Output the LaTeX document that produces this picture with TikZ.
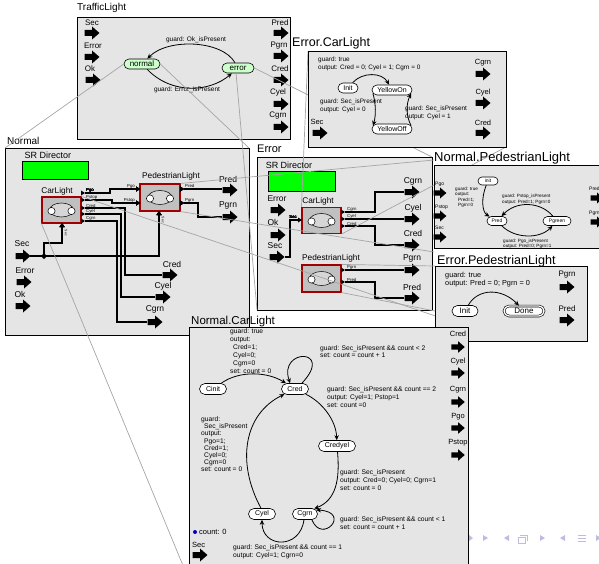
\documentclass[tikz,border=0pt]{standalone}
\usepackage{fontspec}
\setmainfont{Liberation Sans}
\usetikzlibrary{arrows.meta,shapes.misc,calc}
\definecolor{winfill}{RGB}{229,229,229}
\definecolor{stategreen}{RGB}{204,255,204}
\definecolor{srgreen}{RGB}{0,255,0}
\definecolor{actorfill}{RGB}{192,192,192}
\definecolor{iconfill}{RGB}{214,214,214}
\definecolor{actorred}{RGB}{160,0,0}
\definecolor{zoomgray}{RGB}{165,165,165}
\definecolor{navc}{RGB}{188,188,228}
\definecolor{countblue}{RGB}{0,0,200}

\begin{document}
\begin{tikzpicture}[x=1pt, y=-1pt,
    window/.style={draw=black, fill=winfill, line width=0.8pt},
    wintitle/.style={anchor=west, inner sep=0pt, font=\fontsize{#1pt}{#1pt}\selectfont},
    txt/.style={inner sep=0pt, font=\fontsize{#1pt}{#1pt}\selectfont},
    blk/.style 2 args={inner sep=0pt, anchor=north west, align=left, font=\fontsize{#1pt}{#2pt}\selectfont},
    state/.style 2 args={draw, line width=0.6pt, rounded rectangle, fill=white, inner sep=0pt,
      minimum width=#1, minimum height=#2},
    actor/.style={draw=actorred, line width=1.1pt, fill=actorfill, minimum width=39pt,
      minimum height=26pt, inner sep=0pt},
    director/.style={draw=black, line width=0.4pt, fill=srgreen},
    wire/.style={line width=1.1pt},
    trans/.style={line width=0.8pt, -{Stealth[length=5pt, width=4.5pt]}},
    zoomline/.style={draw=zoomgray, line width=0.7pt}]
  \useasboundingbox (0,0) rectangle (599,564);
  \clip (0,0) rectangle (599,564);
  % block arrow of a port: #1 = center, #2 = scale
  \newcommand{\portarrow}[2]{%
    \fill[shift={#1}, scale=#2] (-7.5,-3) -- (0,-3) -- (0,-6.5) -- (7.5,0) -- (0,6.5) -- (0,3) -- (-7.5,3) -- cycle;}
  % small port triangles on an actor: #1 = base point
  \newcommand{\pinright}[1]{\fill #1 ++(0,-2.5) -- ++(4,2.5) -- ++(-4,2.5) -- cycle;}
  \newcommand{\pinup}[1]{\fill #1 ++(-2.5,0) -- ++(2.5,-4) -- ++(2.5,4) -- cycle;}
  % icon inside an actor: #1 = actor node
  \newcommand{\actoricon}[1]{%
    \draw[fill=iconfill, line width=0.5pt] (#1.center) ellipse[x radius=12, y radius=7];
    \draw[fill=white, line width=0.5pt] ($(#1.center)+(-10,1)$) circle[radius=3.6];
    \draw[fill=white, line width=0.5pt] ($(#1.center)+(10,1)$) circle[radius=3.6];}

  % ---------------- TrafficLight
  \node[wintitle=10] (tlTitle) at (77,8) {TrafficLight};
  \draw[window] (77,17) rectangle (290,139);
  \node[txt=8] (tlSec) at (92,23) {Sec};      \portarrow{(92,33)}{1}
  \node[txt=8] (tlErr) at (93,46) {Error};    \portarrow{(92,57)}{1}
  \node[txt=8] (tlOk) at (90,69) {Ok};        \portarrow{(93,80)}{1}
  \node[txt=8] (tlPred) at (280,23) {Pred};   \portarrow{(281,33)}{1}
  \node[txt=8] (tlPgrn) at (279,46) {Pgrn};   \portarrow{(281,56)}{1}
  \node[txt=8] (tlCred) at (280,69) {Cred};   \portarrow{(281,80)}{1}
  \node[txt=8] (tlCyel) at (278,92) {Cyel};   \portarrow{(281,104)}{1}
  \node[txt=8] (tlCgrn) at (278,116) {Cgrn};  \portarrow{(281,127)}{1}
  \node[state={36pt}{10pt}, fill=stategreen, font=\fontsize{8pt}{8pt}\selectfont] (tNormal) at (142,64) {normal};
  \node[state={32pt}{10pt}, fill=stategreen, font=\fontsize{8pt}{8pt}\selectfont] (tError) at (238,68) {error};
  \draw[trans] (tError) .. controls (222,40) and (168,38) .. (tNormal);
  \draw[trans] (tNormal) .. controls (172,95) and (210,92) .. (tError);
  \node[txt=6.5] (tlGuardOk) at (196,40) {guard: Ok\_isPresent};
  \node[txt=6.5] (tlGuardErr) at (187,90) {guard: Error\_isPresent};

  % ---------------- Normal
  \node[wintitle=10] (nTitle) at (7,141) {Normal};
  \draw[window] (5,148) rectangle (249,335);
  \node[txt=9] (nDir) at (48,155) {SR Director};
  \draw[director] (22,161) rectangle (88,179);
  \node[txt=8.3] (nCarL) at (57,191) {CarLight};
  \node[actor] (nCar) at (61.5,210) {};
  \actoricon{nCar}
  \node[txt=8.3] (nPedL) at (171,176) {PedestrianLight};
  \node[actor, minimum width=40pt, minimum height=27pt] (nPed) at (160,197.5) {};
  \actoricon{nPed}
  \foreach \y in {193,200,208,214,221} \pinright{(81,\y)}
  \foreach \y in {189,203} {\pinright{(136,\y)} \pinright{(180,\y)}}
  \pinup{(62,227)} \pinup{(159,215)}
  \node[txt=4.3, anchor=west] (nCarPgo) at (86,190) {Pgo};
  \node[txt=4.3, anchor=west] (nCarPstop) at (86,197.5) {Pstop};
  \node[txt=4.3, anchor=west] (nCarCred) at (86,205.5) {Cred};
  \node[txt=4.3, anchor=west] (nCarCyel) at (86,211.5) {Cyel};
  \node[txt=4.3, anchor=west] (nCarCgrn) at (86,218.5) {Cgrn};
  \node[txt=4.3, anchor=east] (nPedPgo) at (135,186) {Pgo};
  \node[txt=4.3, anchor=east] (nPedPstop) at (135,200) {Pstop};
  \node[txt=4.3, anchor=west] (nPedPred) at (185,186) {Pred};
  \node[txt=4.3, anchor=west] (nPedPgrn) at (185,200) {Pgrn};
  \node[txt=3.5, rotate=-90] (nCarSec) at (66,233) {Sec};
  \node[txt=3.5, rotate=-90] (nPedSec) at (163,220) {Sec};
  \draw[wire] (85,193) -- (110,193) -- (110,189) -- (136,189);
  \draw[wire] (85,200) -- (112,200) -- (112,203) -- (136,203);
  \draw[wire] (85,208) -- (125,208) -- (125,275) -- (162,275);
  \draw[wire] (85,214) -- (121,214) -- (121,297) -- (155,297);
  \draw[wire] (85,221) -- (117,221) -- (117,322) -- (147,322);
  \draw[wire] (184,189) -- (222,189);
  \draw[wire] (184,203) -- (198,203) -- (198,217) -- (222,217);
  \coordinate (nRel) at (44,256);
  \draw[wire] (30,256) -- (nRel) -- (44,243) -- (62,243) -- (62,227);
  \draw[wire] (nRel) -- (159,256) -- (159,215);
  \fill (nRel) ++(-3,0) -- ++(3,-3) -- ++(3,3) -- ++(-3,3) -- cycle;
  \node[txt=8.5] (nPred) at (228,179) {Pred};  \portarrow{(230,190)}{1}
  \node[txt=8.5] (nPgrn) at (228,205) {Pgrn};  \portarrow{(230,217)}{1}
  \node[txt=8.5] (nCred) at (172,264) {Cred};  \portarrow{(170,275)}{1}
  \node[txt=8.5] (nCyel) at (163,286) {Cyel};  \portarrow{(163,297)}{1}
  \node[txt=8.5] (nCgrn) at (155,309) {Cgrn};  \portarrow{(155,322)}{1}
  \node[txt=8.5] (nSec) at (22,244) {Sec};     \portarrow{(23,256)}{1}
  \node[txt=8.5] (nErr) at (25,271) {Error};   \portarrow{(24,282)}{1}
  \node[txt=8.5] (nOk) at (20,294) {Ok};       \portarrow{(23,306)}{1}

  % ---------------- Error
  \node[wintitle=11] (eTitle) at (257,149) {Error};
  \draw[window] (257,157) rectangle (432,310);
  \node[txt=9] (eDir) at (289,165) {SR Director};
  \draw[director] (268,171) rectangle (335,191);
  \node[txt=8.3] (eCarL) at (318,201) {CarLight};
  \node[actor] (eCar) at (321.5,220.5) {};
  \actoricon{eCar}
  \node[txt=8.3] (ePedL) at (331,258) {PedestrianLight};
  \node[actor, minimum height=27pt] (ePed) at (321.5,278.5) {};
  \actoricon{ePed}
  \pinright{(298,220)}
  \foreach \y in {212,219,226,270,282} \pinright{(341,\y)}
  \node[txt=4.3, anchor=east] (eCarSec) at (297,217) {Sec};
  \node[txt=4.3, anchor=west] (eCarCgrn) at (347,209.5) {Cgrn};
  \node[txt=4.3, anchor=west] (eCarCyel) at (347,216.5) {Cyel};
  \node[txt=4.3, anchor=west] (eCarCred) at (347,223.5) {Cred};
  \node[txt=4.3, anchor=west] (ePedPgrn) at (347,267.5) {Pgrn};
  \node[txt=4.3, anchor=west] (ePedPred) at (347,279.5) {Pred};
  \draw[wire] (285,257) -- (290,257) -- (290,220) -- (298,220);
  \draw[wire] (345,212) -- (375,212) -- (375,192) -- (404,192);
  \draw[wire] (345,219) -- (404,219);
  \draw[wire] (345,226) -- (375,226) -- (375,245) -- (404,245);
  \draw[wire] (345,270) -- (404,270);
  \draw[wire] (345,282) -- (375,282) -- (375,298) -- (404,298);
  \node[txt=8.5] (eErr) at (277,199) {Error};  \portarrow{(278,210)}{1}
  \node[txt=8.5] (eOk) at (273,222) {Ok};      \portarrow{(278,235)}{1}
  \node[txt=8.5] (eSec) at (275,246) {Sec};    \portarrow{(277,257)}{1}
  \node[txt=8.5] (eCgrn) at (413,181) {Cgrn};  \portarrow{(412,192)}{1}
  \node[txt=8.5] (eCyel) at (413,208) {Cyel};  \portarrow{(412,219)}{1}
  \node[txt=8.5] (eCred) at (413,233) {Cred};  \portarrow{(412,245)}{1}
  \node[txt=8.5] (ePgrn) at (412,258) {Pgrn};  \portarrow{(412,270)}{1}
  \node[txt=8.5] (ePred) at (412,287) {Pred};  \portarrow{(412,298)}{1}

  % ---------------- zoom lines to the refinements
  \coordinate (nWinTL) at (5,148);
  \coordinate (nWinTR) at (249,148);
  \coordinate (eWinBL) at (257,310);
  \coordinate (eWinTR) at (432,157);
  \coordinate (ecWinTL) at (308,51);
  \coordinate (ecWinBR) at (506,147);
  \coordinate (npWinTL) at (434,160);
  \coordinate (npWinBL) at (434,252);
  \coordinate (epWinTL) at (435,266);
  \coordinate (epWinBR) at (587,341);
  \coordinate (ncWinTR) at (468,327);
  \coordinate (ncWinBL) at (189,580);
  \draw[zoomline] (tNormal.west) -- (nWinTL);
  \draw[zoomline] (tNormal.east) -- (nWinTR);
  \draw[zoomline] (tError.250) -- (eWinBL);
  \draw[zoomline] (tError.east) -- (eWinTR);
  \draw[zoomline] (eCar.north west) -- (ecWinTL);
  \draw[zoomline] (eCar.south east) -- (ecWinBR);
  \draw[zoomline] (nPed.north east) -- (npWinTL);
  \draw[zoomline] (nPed.south east) -- (npWinBL);
  \draw[zoomline] (ePed.north east) -- (epWinTL);
  \draw[zoomline] (ePed.south east) -- (epWinBR);
  \draw[zoomline] (nCar.north east) -- (ncWinTR);
  \draw[zoomline] (nCar.south west) -- (ncWinBL);

  % ---------------- Error.CarLight
  \node[wintitle=12.5] (ecTitle) at (292,43) {Error.CarLight};
  \draw[window] (308,51) rectangle (506,147);
  \node[blk={6.4}{8}] (ecInit) at (318,56.5) {guard: true\\output: Cred = 0; Cyel = 1; Cgrn = 0};
  \node[state={20pt}{10pt}, font=\fontsize{7pt}{7pt}\selectfont] (ecI) at (348,88) {Init};
  \node[state={40pt}{10pt}, font=\fontsize{7pt}{7pt}\selectfont] (ecOn) at (392,90) {YellowOn};
  \node[state={40pt}{10pt}, font=\fontsize{7pt}{7pt}\selectfont] (ecOff) at (392,129) {YellowOff};
  \draw[trans] (ecI) .. controls (362,72) and (382,72) .. (ecOn);
  \draw[trans] (ecOn.190) .. controls (376,104) and (376,116) .. (ecOff.170);
  \draw[trans] (ecOff.10) .. controls (406,116) and (406,104) .. (ecOn.-10);
  \node[blk={6.4}{8}] (ecLeft) at (320,98.5) {guard: Sec\_isPresent\\output: Cyel = 0};
  \node[blk={6.4}{8}] (ecRight) at (405,105.5) {guard: Sec\_isPresent\\output: Cyel = 1};
  \node[txt=7.5] (ecCgrn) at (483,63) {Cgrn};  \portarrow{(483,74)}{1}
  \node[txt=7.5] (ecCyel) at (483,93) {Cyel};  \portarrow{(483,103)}{1}
  \node[txt=7.5] (ecCred) at (483,123) {Cred}; \portarrow{(483,133)}{1}
  \node[txt=7.5] (ecSec) at (317,122) {Sec};   \portarrow{(320,133)}{1}

  % ---------------- Normal.PedestrianLight
  \node[wintitle=13] (npTitle) at (434,158) {Normal.PedestrianLight};
  \draw[window] (434,165) rectangle (620,248);
  \node[state={20pt}{8pt}, font=\fontsize{5pt}{5pt}\selectfont] (npInit) at (488,181) {init};
  \node[state={20pt}{9pt}, font=\fontsize{5pt}{5pt}\selectfont] (npRed) at (497,221) {Pred};
  \node[state={28pt}{9pt}, font=\fontsize{5pt}{5pt}\selectfont] (npGreen) at (557,221) {Pgreen};
  \draw[trans] (npInit) .. controls (481,198) and (482,212) .. (npRed);
  \draw[trans] (npGreen) .. controls (540,201) and (516,201) .. (npRed);
  \draw[trans] (npRed) .. controls (515,239) and (540,239) .. (npGreen);
  \node[blk={4.6}{5.5}] (npTrue) at (455,186.5) {guard: true\\output:\\\hspace{3pt}Pred=1;\\\hspace{3pt}Pgrn=0};
  \node[blk={4.6}{5.5}] (npStop) at (502,194) {guard: Pstop\_isPresent\\output: Pred=1; Pgrn=0};
  \node[blk={4.6}{5.5}] (npGo) at (503,238.5) {guard: Pgo\_isPresent\\output: Pred=0; Pgrn=1};
  \node[txt=5, anchor=west] (npPgo) at (435,184) {Pgo};     \portarrow{(440,193)}{0.85}
  \node[txt=5, anchor=west] (npPstop) at (435,207) {Pstop}; \portarrow{(440,216)}{0.85}
  \node[txt=5, anchor=west] (npSec) at (435,228) {Sec};     \portarrow{(440,237)}{0.85}
  \node[txt=5, anchor=west] (npPred) at (589,189) {Pred};   \portarrow{(597,198)}{0.85}
  \node[txt=5, anchor=west] (npPgrn) at (589,213) {Pgrn};   \portarrow{(597,222)}{0.85}

  % ---------------- Error.PedestrianLight
  \node[wintitle=12.6] (epTitle) at (437,261) {Error.PedestrianLight};
  \draw[window] (435,266) rectangle (587,341);
  \node[blk={7.3}{8}] (epTrue) at (445,272.5) {guard: true\\output: Pred = 0; Pgrn = 0};
  \node[state={26pt}{11pt}, font=\fontsize{8pt}{8pt}\selectfont] (epInit) at (465,311) {Init};
  \node[state={40pt}{10pt}, double, double distance=1.3pt, font=\fontsize{8pt}{8pt}\selectfont] (epDone) at (524,311) {Done};
  \draw[trans] (epInit) .. controls (478,288) and (502,288) .. (epDone);
  \node[txt=8] (epPgrn) at (567,275) {Pgrn}; \portarrow{(567,287)}{1}
  \node[txt=8] (epPred) at (567,309) {Pred}; \portarrow{(567,320)}{1}

  % ---------------- Normal.CarLight
  \node[wintitle=11.5] (ncTitle) at (191,322) {Normal.CarLight};
  \draw[window] (189,327) rectangle (468,575);
  \node[blk={6.7}{7.9}] (ncTrue) at (230,328.5) {guard: true\\output:\\\hspace{3pt}Cred=1;\\\hspace{3pt}Cyel=0;\\\hspace{3pt}Cgrn=0\\set: count = 0};
  \node[state={27pt}{11pt}, font=\fontsize{7pt}{7pt}\selectfont] (ncInit) at (213,389) {Cinit};
  \node[state={27pt}{11pt}, font=\fontsize{7pt}{7pt}\selectfont] (ncRed) at (295,389) {Cred};
  \node[state={37pt}{11pt}, font=\fontsize{7pt}{7pt}\selectfont] (ncRedyel) at (337,446) {Credyel};
  \node[state={27pt}{11pt}, font=\fontsize{7pt}{7pt}\selectfont] (ncYel) at (262,514) {Cyel};
  \node[state={25pt}{11pt}, font=\fontsize{7pt}{7pt}\selectfont] (ncGrn) at (305,514) {Cgrn};
  \draw[trans] (ncInit) .. controls (240,370) and (268,372) .. (ncRed);
  \draw[trans] (ncRed.40) .. controls (335,348) and (278,348) .. (ncRed.130);
  \draw[trans] (ncRed) .. controls (322,402) and (336,420) .. (ncRedyel);
  \draw[trans] (ncRedyel) .. controls (340,480) and (336,500) .. (ncGrn.30);
  \draw[trans] (ncGrn.-40) .. controls (322,545) and (352,512) .. (ncGrn.20);
  \draw[trans] (ncGrn.-100) .. controls (300,550) and (262,548) .. (ncYel);
  \draw[trans] (ncYel.100) .. controls (236,462) and (244,414) .. (ncRed);
  \node[blk={6.7}{7.6}] (ncLoopRed) at (320,345) {guard: Sec\_isPresent \&\& count < 2\\set: count = count + 1};
  \node[blk={6.7}{7.9}] (ncToYel) at (327,386.5) {guard: Sec\_isPresent \&\& count == 2\\output: Cyel=1; Pstop=1\\set: count =0};
  \node[blk={6.7}{7.2}] (ncBack) at (201,416.5) {guard:\\\hspace{3pt}Sec\_isPresent\\output:\\\hspace{3pt}Pgo=1;\\\hspace{3pt}Cred=1;\\\hspace{3pt}Cyel=0;\\\hspace{3pt}Cgrn=0\\set: count = 0};
  \node[blk={6.7}{7.9}] (ncToGrn) at (340,469.5) {guard: Sec\_isPresent\\output: Cred=0; Cyel=0; Cgrn=1\\set: count = 0};
  \node[blk={6.7}{7.9}] (ncLoopGrn) at (340,516.5) {guard: Sec\_isPresent \&\& count < 1\\set: count = count + 1};
  \node[blk={6.7}{7.9}] (ncToCyel) at (233,544.5) {guard: Sec\_isPresent \&\& count == 1\\output: Cyel=1; Cgrn=0};
  \fill[countblue] (195,532) circle[radius=2];
  \node[txt=7.5, anchor=west] (ncCount) at (199,532) {count: 0};
  \node[txt=7.5, anchor=west] (ncSec) at (192,545) {Sec};  \portarrow{(200,555)}{1}
  \node[txt=7.5] (ncCred) at (458,334) {Cred};   \portarrow{(458,347)}{0.9}
  \node[txt=7.5] (ncCyel) at (458,362) {Cyel};   \portarrow{(458,373)}{0.9}
  \node[txt=7.5] (ncCgrn) at (458,390) {Cgrn};   \portarrow{(458,402)}{0.9}
  \node[txt=7.5] (ncPgo) at (458,417) {Pgo};     \portarrow{(458,428)}{0.9}
  \node[txt=7.5] (ncPstop) at (458,443) {Pstop}; \portarrow{(458,455)}{0.9}

  % ---------------- navigation symbols
  \fill[navc] (469,535) -- (473,538) -- (469,541) -- cycle;
  \fill[navc] (483,535) -- (488,538) -- (483,541) -- cycle;
  \fill[navc] (509,535) -- (504,538) -- (509,541) -- cycle;
  \draw[navc, line width=0.8pt] (518,537) rectangle (525,543) (520,535) -- (527,535) -- (527,541);
  \fill[navc] (540,535) -- (545,538) -- (540,541) -- cycle;
  \fill[navc] (565,535) -- (560,538) -- (565,541) -- cycle;
  \draw[navc, line width=0.8pt] (578,535) -- (586,535) (578,538) -- (586,538) (578,541) -- (586,541);
  \fill[navc] (596,535) -- (601,538) -- (596,541) -- cycle;
\end{tikzpicture}
\end{document}
